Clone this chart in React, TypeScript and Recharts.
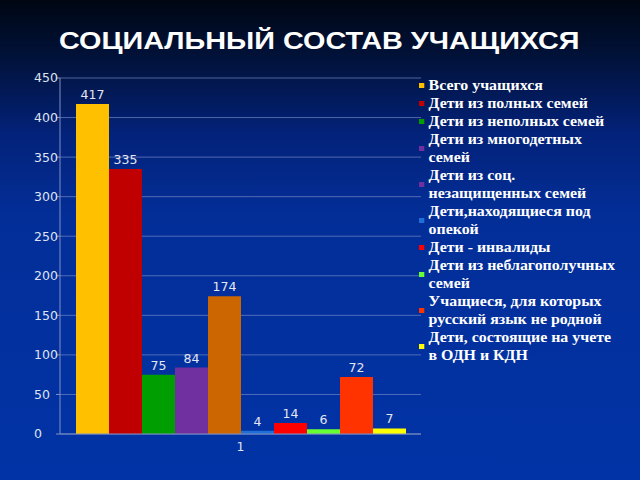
import React from "react";
import { BarChart, Bar, XAxis, YAxis, CartesianGrid, LabelList } from "recharts";

const categories = ["1"];
const seriesNames = [
  "Всего учащихся",
  "Дети из полных семей",
  "Дети из неполных семей",
  "Дети из многодетных семей",
  "Дети из соц. незащищенных семей",
  "Дети,находящиеся под опекой",
  "Дети - инвалиды",
  "Дети из неблагополучных семей",
  "Учащиеся, для которых русский язык не родной",
  "Дети, состоящие на учете в ОДН и КДН",
];
const legendLines = [
  ["Всего учащихся"],
  ["Дети из полных семей"],
  ["Дети из неполных семей"],
  ["Дети из многодетных", "семей"],
  ["Дети из соц.", "незащищенных семей"],
  ["Дети,находящиеся под", "опекой"],
  ["Дети - инвалиды"],
  ["Дети из неблагополучных", "семей"],
  ["Учащиеся, для которых", "русский язык не родной"],
  ["Дети, состоящие на учете", "в ОДН и КДН"],
];
const values = [417, 335, 75, 84, 174, 4, 14, 6, 72, 7];
const barColors = ["#FFC000", "#C00000", "#009E00", "#7030A0", "#CC6600", "#1F6FD8", "#FF0000", "#66FF33", "#FF3300", "#FFFF00"];
const legendColors = ["#FFC000", "#C00000", "#009E00", "#7030A0", "#7030A0", "#1F6FD8", "#FF0000", "#66FF33", "#FF3300", "#FFFF00"];
const yTicks = [0, 50, 100, 150, 200, 250, 300, 350, 400, 450];

const data = categories.map((c) => {
  const row: Record<string, string | number> = { name: c };
  values.forEach((v, i) => (row["s" + i] = v));
  return row;
});

const tickFont = { fill: "#dfe3f0", fontSize: 12.5, fontFamily: "'DejaVu Sans', sans-serif" };

const YTick = (props: any) => {
  const { y, payload } = props;
  return (
    <text x={34} y={y} dy="0.355em" textAnchor="start" {...{ fill: tickFont.fill, fontSize: tickFont.fontSize, fontFamily: tickFont.fontFamily }}>
      {payload.value}
    </text>
  );
};

export default function App() {
  return (
    <div
      style={{
        position: "fixed",
        left: 0,
        top: 0,
        width: 640,
        height: 480,
        overflow: "hidden",
        background:
          "linear-gradient(to bottom, #000612 0%, #01123a 12%, #03227a 28%, #032e98 45%, #0133a6 100%)",
      }}
    >
      <div
        style={{
          position: "absolute",
          left: 0,
          top: 25,
          width: 640,
          textAlign: "center",
          color: "#ffffff",
          fontFamily: "'Liberation Sans', Arial, sans-serif",
          fontWeight: "bold",
          fontSize: 24,
          lineHeight: "32px",
          transform: "scaleX(1.2)",
          transformOrigin: "324px 0",
        }}
      >
        СОЦИАЛЬНЫЙ СОСТАВ УЧАЩИХСЯ
      </div>
      <div style={{ position: "absolute", left: 0, top: 0 }}>
        <BarChart
          width={640}
          height={480}
          data={data}
          margin={{ top: 78, right: 219, bottom: 16, left: 0 }}
          barCategoryGap={16}
          barGap={0}
        >
          <CartesianGrid vertical={false} stroke="#7086c4" strokeOpacity={0.7} />
          <XAxis
            dataKey="name"
            height={30}
            tick={tickFont}
            axisLine={{ stroke: "#8090c0" }}
            tickLine={false}
          />
          <YAxis
            width={60}
            domain={[0, 450]}
            ticks={yTicks}
            interval={0}
            tick={<YTick />}
            axisLine={{ stroke: "#8090c0" }}
            tickLine={{ stroke: "#8090c0" }}
            tickSize={4}
          />
          {values.map((_, i) => (
            <Bar key={i} dataKey={"s" + i} name={seriesNames[i]} fill={barColors[i]} isAnimationActive={false}>
              <LabelList
                dataKey={"s" + i}
                position="top"
                fill="#e4e6f0"
                fontSize={12.5}
                fontFamily="'DejaVu Sans', sans-serif"
              />
            </Bar>
          ))}
        </BarChart>
      </div>
      <div
        style={{
          position: "absolute",
          left: 419,
          top: 76,
          width: 221,
          color: "#ffffff",
          fontFamily: "'Liberation Serif', 'Times New Roman', serif",
          fontWeight: "bold",
          fontSize: 15,
          lineHeight: "18px",
          transform: "scaleX(1.06)",
          transformOrigin: "0 0",
        }}
      >
        {legendLines.map((lines, i) => (
          <div key={i} style={{ display: "flex", alignItems: "center" }}>
            <div style={{ width: 5, height: 5, background: legendColors[i], marginRight: 4, flexShrink: 0 }} />
            <div>
              {lines.map((l, j) => (
                <div key={j} style={{ whiteSpace: "nowrap" }}>{l}</div>
              ))}
            </div>
          </div>
        ))}
      </div>
    </div>
  );
}
